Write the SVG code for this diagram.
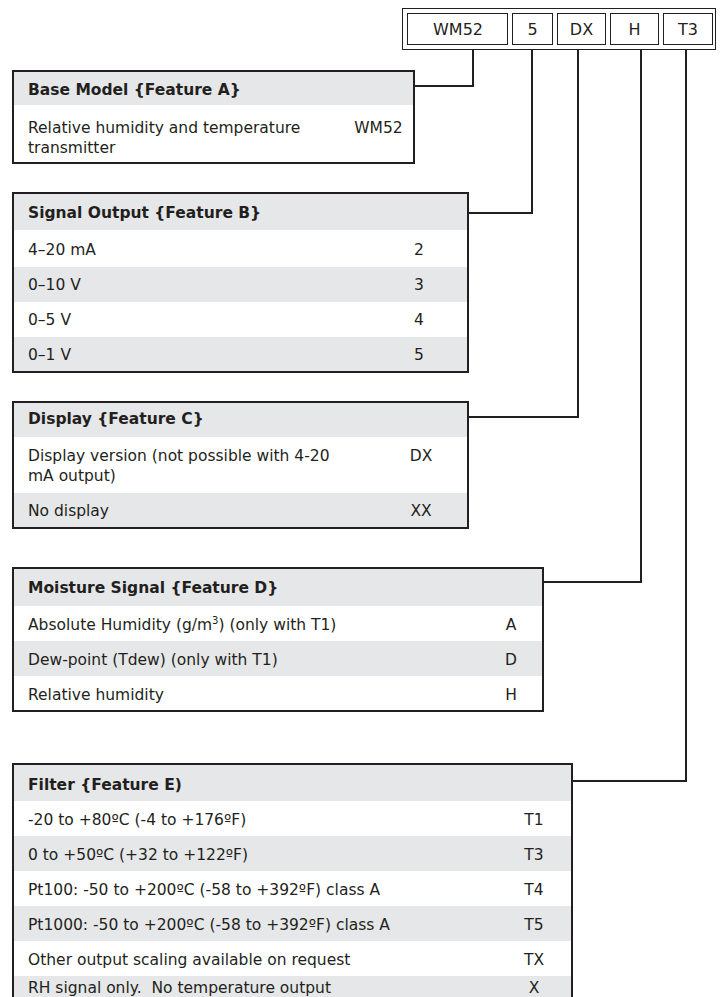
<svg xmlns="http://www.w3.org/2000/svg" width="726" height="997" viewBox="0 0 726 997">
<style>
text{font-family:"DejaVu Sans","Liberation Sans",sans-serif;font-size:15.5px;fill:#231f20}
.h{font-weight:bold}
.c{text-anchor:middle}
.code{font-size:16px;text-anchor:middle}
.hd{fill:#e6e7e8}
.g{fill:#e6e7e8}
.w{fill:#ffffff}
.bd{fill:none;stroke:#231f20;stroke-width:2}
.thin{fill:none;stroke:#231f20;stroke-width:1}
.con{fill:none;stroke:#231f20;stroke-width:2;stroke-linejoin:miter}
</style>
<rect width="726" height="997" fill="#ffffff"/>

<g id="model-code">
<rect class="thin" x="402.5" y="8.5" width="313" height="41"/>
<rect class="thin" x="407.5" y="13.5" width="100" height="31"/>
<rect class="thin" x="512.5" y="13.5" width="40" height="31"/>
<rect class="thin" x="557.5" y="13.5" width="48" height="31"/>
<rect class="thin" x="610.5" y="13.5" width="48" height="31"/>
<rect class="thin" x="663.5" y="13.5" width="49" height="31"/>
<text class="code" x="458" y="35">WM52</text>
<text class="code" x="532.5" y="35">5</text>
<text class="code" x="581.5" y="35">DX</text>
<text class="code" x="634.5" y="35">H</text>
<text class="code" x="688" y="35">T3</text>
</g>

<g id="connectors">
<polyline class="con" points="414,86 473,86 473,49"/>
<polyline class="con" points="468,213 532,213 532,49"/>
<polyline class="con" points="468,417 578,417 578,49"/>
<polyline class="con" points="543,582 641,582 641,49"/>
<polyline class="con" points="572,781 686,781 686,49"/>
</g>

<g id="base-model">
<rect class="hd" x="13" y="71" width="401" height="34"/>
<rect class="w" x="13" y="105" width="401" height="58"/>
<rect class="bd" x="13" y="71" width="401" height="92"/>
<text class="h" x="28" y="95">Base Model {Feature A}</text>
<text x="28" y="133">Relative humidity and temperature</text>
<text x="28" y="153">transmitter</text>
<text class="c" x="378.5" y="133">WM52</text>
</g>

<g id="signal-output">
<rect class="hd" x="13" y="193" width="455" height="37"/>
<rect class="w" x="13" y="230" width="455" height="37"/>
<rect class="g" x="13" y="267" width="455" height="35"/>
<rect class="w" x="13" y="302" width="455" height="35"/>
<rect class="g" x="13" y="337" width="455" height="35"/>
<rect class="bd" x="13" y="193" width="455" height="179"/>
<text class="h" x="28" y="218">Signal Output {Feature B}</text>
<text x="28" y="255">4–20 mA</text>
<text x="28" y="290">0–10 V</text>
<text x="28" y="325">0–5 V</text>
<text x="28" y="360">0–1 V</text>
<text class="c" x="419" y="255">2</text>
<text class="c" x="419" y="290">3</text>
<text class="c" x="419" y="325">4</text>
<text class="c" x="419" y="360">5</text>
</g>

<g id="display">
<rect class="hd" x="13" y="402" width="455" height="35"/>
<rect class="w" x="13" y="437" width="455" height="56"/>
<rect class="g" x="13" y="493" width="455" height="35"/>
<rect class="bd" x="13" y="402" width="455" height="126"/>
<text class="h" x="28" y="424">Display {Feature C}</text>
<text x="28" y="461">Display version (not possible with 4-20</text>
<text x="28" y="481">mA output)</text>
<text x="28" y="516">No display</text>
<text class="c" x="421" y="461">DX</text>
<text class="c" x="421" y="516">XX</text>
</g>

<g id="moisture-signal">
<rect class="hd" x="13" y="568" width="530" height="38"/>
<rect class="w" x="13" y="606" width="530" height="35"/>
<rect class="g" x="13" y="641" width="530" height="35"/>
<rect class="w" x="13" y="676" width="530" height="35"/>
<rect class="bd" x="13" y="568" width="530" height="143"/>
<text class="h" x="28" y="593">Moisture Signal {Feature D}</text>
<text x="28" y="630">Absolute Humidity (g/m<tspan dy="-6" font-size="10">3</tspan><tspan dy="6">) (only with T1)</tspan></text>
<text x="28" y="665">Dew-point (Tdew) (only with T1)</text>
<text x="28" y="700">Relative humidity</text>
<text class="c" x="511" y="630">A</text>
<text class="c" x="511" y="665">D</text>
<text class="c" x="511" y="700">H</text>
</g>

<g id="filter">
<rect class="hd" x="13" y="764" width="559" height="37"/>
<rect class="w" x="13" y="801" width="559" height="35"/>
<rect class="g" x="13" y="836" width="559" height="35"/>
<rect class="w" x="13" y="871" width="559" height="35"/>
<rect class="g" x="13" y="906" width="559" height="35"/>
<rect class="w" x="13" y="941" width="559" height="35"/>
<rect class="g" x="13" y="976" width="559" height="35"/>
<rect class="bd" x="13" y="764" width="559" height="247"/>
<text class="h" x="28" y="790">Filter {Feature E)</text>
<text x="28" y="825">-20 to +80ºC (-4 to +176ºF)</text>
<text x="28" y="860">0 to +50ºC (+32 to +122ºF)</text>
<text x="28" y="895">Pt100: -50 to +200ºC (-58 to +392ºF) class A</text>
<text x="28" y="930">Pt1000: -50 to +200ºC (-58 to +392ºF) class A</text>
<text x="28" y="965">Other output scaling available on request</text>
<text x="28" y="993" style="white-space:pre">RH signal only.  No temperature output</text>
<text class="c" x="534" y="825">T1</text>
<text class="c" x="534" y="860">T3</text>
<text class="c" x="534" y="895">T4</text>
<text class="c" x="534" y="930">T5</text>
<text class="c" x="534" y="965">TX</text>
<text class="c" x="534" y="993">X</text>
</g>
</svg>
